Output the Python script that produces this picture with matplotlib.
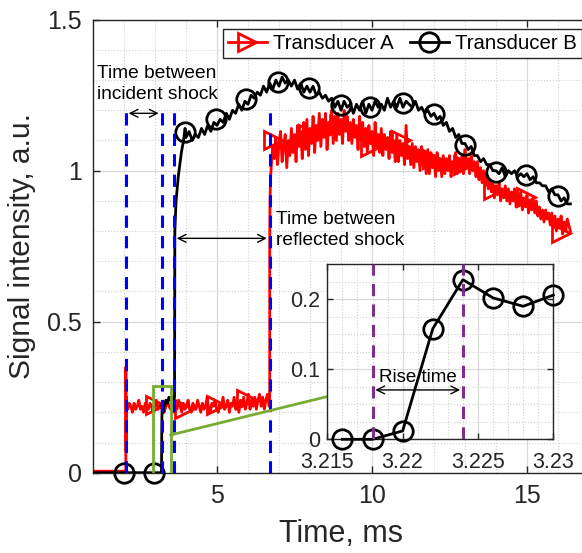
import numpy as np
import matplotlib.pyplot as plt
from matplotlib.lines import Line2D
from matplotlib.patches import Rectangle
from matplotlib.ticker import MultipleLocator

plt.rcParams['font.family'] = ['Liberation Sans', 'DejaVu Sans']

# ---- Transducer A (red) ----
red_base_t = [1.0, 2.04, 2.06, 2.06, 2.07, 2.08, 2.10]
red_base_v = [0.005, 0.005, 0.0, 0.35, 0.07, 0.25, 0.21]
# plateau after incident shock, 2.12 .. 6.68 ms
red_low_v = [0.21, 0.23, 0.22, 0.20, 0.23, 0.21, 0.22, 0.24, 0.21, 0.22, 0.20, 0.23, 0.22, 0.21, 0.23,
             0.22, 0.20, 0.22, 0.24, 0.21, 0.22, 0.23, 0.21, 0.20, 0.22, 0.24, 0.22, 0.21, 0.23, 0.20,
             0.22, 0.21, 0.24, 0.22, 0.20, 0.23, 0.21, 0.22, 0.24, 0.21, 0.20, 0.23, 0.22, 0.21, 0.24,
             0.22, 0.20, 0.23, 0.21, 0.22, 0.25, 0.21, 0.20, 0.23, 0.22, 0.24, 0.21, 0.20, 0.23, 0.22,
             0.25, 0.21, 0.22, 0.24, 0.20, 0.23, 0.22, 0.25, 0.21, 0.23, 0.20, 0.24, 0.22, 0.25, 0.21,
             0.23, 0.26, 0.21, 0.24, 0.22, 0.25, 0.21, 0.24, 0.26, 0.22, 0.25, 0.21, 0.24, 0.26, 0.22]
red_rise_t = [6.70, 6.70, 6.71, 6.73, 6.76, 6.80]
red_rise_v = [0.22, 0.75, 0.90, 0.98, 1.03, 1.08]
# after reflected shock, 6.85 .. 16.40 ms
red_high_v = [1.04, 1.11, 1.02, 1.09, 1.13, 1.03, 1.08, 1.12, 1.01, 1.10,
              1.05, 1.14, 1.06, 1.12, 1.03, 1.15, 1.08, 1.13, 1.04, 1.16,
              1.07, 1.17, 1.05, 1.14, 1.09, 1.18, 1.06, 1.15, 1.10, 1.19,
              1.08, 1.17, 1.11, 1.19, 1.07, 1.16, 1.12, 1.20, 1.09, 1.18,
              1.10, 1.19, 1.12, 1.17, 1.09, 1.20, 1.13, 1.18, 1.10, 1.16,
              1.09, 1.17, 1.11, 1.15, 1.07, 1.18, 1.10, 1.16, 1.08, 1.14,
              1.06, 1.15, 1.09, 1.13, 1.05, 1.16, 1.08, 1.12, 1.06, 1.14,
              1.05, 1.12, 1.07, 1.11, 1.04, 1.13, 1.06, 1.10, 1.03, 1.12,
              1.03, 1.10, 1.05, 1.09, 1.02, 1.15, 1.04, 1.08, 1.02, 1.09,
              1.01, 1.08, 1.03, 1.07, 1.00, 1.08, 1.02, 1.06, 0.99, 1.07,
              0.99, 1.06, 1.01, 1.05, 0.98, 1.06, 1.00, 1.04, 0.98, 1.05,
              0.99, 1.04, 1.00, 1.05, 0.98, 1.03, 1.01, 1.06, 0.99, 1.04,
              1.00, 1.05, 0.99, 1.07, 1.01, 1.04, 0.99, 1.06, 1.00, 1.03,
              0.98, 1.03, 0.97, 1.01, 0.96, 1.00, 0.95, 0.99, 0.94, 0.97,
              0.93, 0.96, 0.91, 0.95, 0.92, 0.96, 0.90, 0.94, 0.91, 0.95,
              0.90, 0.94, 0.89, 0.93, 0.90, 0.94, 0.88, 0.92, 0.89, 0.93,
              0.87, 0.91, 0.88, 0.92, 0.86, 0.90, 0.87, 0.91, 0.86, 0.90,
              0.85, 0.88, 0.84, 0.87, 0.83, 0.87, 0.84, 0.86, 0.82, 0.86,
              0.81, 0.85, 0.80, 0.84, 0.81, 0.85, 0.79, 0.83, 0.80, 0.84,
              0.82, 0.80]
red_mark_t = [3.0, 3.94, 4.98, 5.95, 6.8, 7.95, 8.95, 9.93, 10.95, 11.95, 12.95, 13.9, 14.98, 16.1]
red_mark_v = [0.225, 0.21, 0.225, 0.245, 1.10, 1.12, 1.15, 1.08, 1.10, 1.04, 1.02, 0.936, 0.914, 0.793]

# ---- Transducer B (black) ----
black_step_t = [1.0, 3.20, 3.21, 3.22, 3.23, 3.26, 3.30, 3.35, 3.40, 3.45, 3.50, 3.55, 3.60, 3.63,
                3.64, 3.68, 3.75, 3.85, 3.92, 3.97]
black_step_v = [0.0, 0.0, 0.01, 0.16, 0.23, 0.20, 0.22, 0.24, 0.23, 0.25, 0.24, 0.25, 0.24, 0.25,
                0.80, 0.90, 0.98, 1.06, 1.10, 1.14]
# 4.0 .. 16.4 ms
black_main_v = [1.11, 1.13, 1.10, 1.12, 1.11, 1.14, 1.12, 1.15, 1.13, 1.16,
                1.15, 1.17, 1.16, 1.19, 1.17, 1.20, 1.19, 1.22, 1.20, 1.23,
                1.22, 1.25, 1.24, 1.26, 1.25, 1.28, 1.26, 1.29, 1.27, 1.30,
                1.28, 1.31, 1.29, 1.30, 1.28, 1.30, 1.27, 1.29, 1.26, 1.28,
                1.26, 1.28, 1.25, 1.26, 1.24, 1.25, 1.23, 1.24, 1.21, 1.23,
                1.20, 1.23, 1.21, 1.22, 1.19, 1.22, 1.20, 1.23, 1.19, 1.22,
                1.20, 1.23, 1.21, 1.22, 1.20, 1.24, 1.21, 1.23, 1.21, 1.24,
                1.21, 1.23, 1.22, 1.21, 1.23, 1.20, 1.21, 1.19, 1.20, 1.18,
                1.19, 1.17, 1.18, 1.15, 1.16, 1.13, 1.14, 1.11, 1.12, 1.09,
                1.09, 1.07, 1.08, 1.05, 1.05, 1.03, 1.04, 1.02, 1.02, 1.00,
                1.00, 0.99, 1.01, 0.98, 1.00, 0.99, 1.00, 0.98, 0.99, 0.98,
                0.99, 0.97, 0.98, 0.96, 0.96, 0.95, 0.95, 0.93, 0.94, 0.92,
                0.92, 0.90, 0.91, 0.89, 0.89]
black_mark_t = [2.0, 2.97, 3.96, 4.98, 5.95, 6.97, 7.97, 8.99, 9.95, 11.0, 11.99, 12.99, 14.01, 14.98, 16.0]
black_mark_v = [0, 0, 1.127, 1.17, 1.236, 1.295, 1.273, 1.218, 1.21, 1.223, 1.187, 1.085, 0.997, 0.986, 0.916]

# shock timing markers
shock_lines = [2.06, 3.21, 3.61, 6.70]

# zoomed rise of transducer B
ins_t = [3.216, 3.218, 3.220, 3.222, 3.224, 3.226, 3.228, 3.230]
ins_v = [0.0, 0.0, 0.012, 0.158, 0.228, 0.202, 0.190, 0.206]
rise_lines = [3.218, 3.224]

red_t = np.concatenate([red_base_t, np.linspace(2.12, 6.68, len(red_low_v)), red_rise_t,
                        np.linspace(6.85, 16.40, len(red_high_v))])
red_v = np.concatenate([red_base_v, red_low_v, red_rise_v, red_high_v])
black_t = np.concatenate([black_step_t, np.linspace(4.0, 16.4, len(black_main_v))])
black_v = np.concatenate([black_step_v, black_main_v])

dark = (0.15, 0.15, 0.15)
green = (0.466, 0.674, 0.188)
purple = (0.494, 0.184, 0.556)

fig = plt.figure(figsize=(5.82, 5.53), dpi=100)
ax = fig.add_axes([0.1598, 0.1452, 0.8522, 0.8192])

ax.plot(red_t, red_v, color='red', lw=2.0, zorder=2)
ax.plot(red_mark_t, red_mark_v, ls='none', marker='>', ms=13, mfc='none', mec='red', mew=2.0, zorder=2)
ax.plot(black_t, black_v, color='black', lw=2.0, zorder=3)
ax.plot(black_mark_t, black_mark_v, ls='none', marker='o', ms=14, mfc='none', mec='black', mew=2.0,
        zorder=3, clip_on=False)

for xs in shock_lines:
    ax.plot([xs, xs], [0, 1.2], color='blue', lw=2.2, dashes=(4, 2.7), zorder=4)

ax.annotate('', xy=(2.06, 1.19), xytext=(3.21, 1.19),
            arrowprops=dict(arrowstyle='<->', color='black', lw=1.0, mutation_scale=14), zorder=5)
ax.text(1.13, 1.35, 'Time between\nincident shock', fontsize=13.8, va='top', ha='left',
        linespacing=1.3, zorder=5)
ax.annotate('', xy=(3.61, 0.776), xytext=(6.70, 0.776),
            arrowprops=dict(arrowstyle='<->', color='black', lw=1.0, mutation_scale=14), zorder=5)
ax.text(6.89, 0.865, 'Time between\nreflected shock', fontsize=13.8, va='top', ha='left',
        linespacing=1.3, zorder=5)

ax.add_patch(Rectangle((2.92, -0.003), 0.59, 0.29, fill=False, edgecolor=green, lw=2, zorder=5))
ax.plot([3.51, 8.55], [0.125, 0.252], color=green, lw=2, zorder=5)

ax.set_xlim(1, 17)
ax.set_ylim(0, 1.5)
ax.set_xticks([5, 10, 15])
ax.set_xticklabels(['5', '10', '15'])
ax.set_yticks([0, 0.5, 1, 1.5])
ax.set_yticklabels(['0', '0.5', '1', '1.5'])
ax.xaxis.set_minor_locator(MultipleLocator(1))
ax.yaxis.set_minor_locator(MultipleLocator(0.1))
ax.grid(which='major', color=(0.85, 0.85, 0.85), lw=0.9)
ax.grid(which='minor', color=(0.82, 0.82, 0.82), lw=0.8, ls=':')
ax.set_axisbelow(True)
ax.tick_params(which='major', direction='in', length=5, width=1, colors=dark, labelsize=18,
               top=True, right=True, pad=8)
ax.tick_params(which='minor', length=0)
for s in ax.spines.values():
    s.set_color(dark)
    s.set_linewidth(1)
ax.set_xlabel('Time, ms', fontsize=22, color=dark, labelpad=8)
ax.set_ylabel('Signal intensity, a.u.', fontsize=21.5, color=dark, labelpad=8)

handles = [Line2D([], [], color='red', lw=2.0, marker='>', ms=13, mfc='none', mew=2.0),
           Line2D([], [], color='black', lw=2.0, marker='o', ms=14, mfc='none', mew=2.0)]
leg = fig.legend(handles, ['Transducer A', 'Transducer B'], ncol=2, loc='upper left',
                 bbox_to_anchor=(0.383, 0.9476), borderaxespad=0, fontsize=14.7, frameon=True,
                 fancybox=False, edgecolor=dark, framealpha=1, borderpad=0.25, handlelength=1.9,
                 handletextpad=0.3, columnspacing=0.8)
leg.get_frame().set_linewidth(1)

# inset
axi = fig.add_axes([0.5624, 0.2056, 0.3883, 0.3165])
axi.set_zorder(10)
axi.plot(ins_t, ins_v, color='black', lw=2.0, marker='o', ms=14, mfc='none', mew=2.0, clip_on=False,
         zorder=3)
for xs in rise_lines:
    axi.plot([xs, xs], [0, 0.25], color=purple, lw=2.2, dashes=(4, 2.7), zorder=4)
axi.annotate('', xy=(3.218, 0.0705), xytext=(3.224, 0.0705),
             arrowprops=dict(arrowstyle='<->', color='black', lw=1.0, mutation_scale=14), zorder=5)
axi.text(3.221, 0.082, 'Rise time', fontsize=13.5, ha='center', va='baseline', zorder=5)
axi.set_xlim(3.215, 3.230)
axi.set_ylim(0, 0.25)
axi.set_xticks([3.215, 3.22, 3.225, 3.23])
axi.set_xticklabels(['3.215', '3.22', '3.225', '3.23'])
axi.set_yticks([0, 0.1, 0.2])
axi.set_yticklabels(['0', '0.1', '0.2'])
axi.xaxis.set_minor_locator(MultipleLocator(0.001))
axi.yaxis.set_minor_locator(MultipleLocator(0.025))
axi.grid(which='major', color=(0.85, 0.85, 0.85), lw=0.9)
axi.grid(which='minor', color=(0.82, 0.82, 0.82), lw=0.8, ls=':')
axi.set_axisbelow(True)
axi.tick_params(which='major', direction='in', length=4, width=1, colors=dark, labelsize=15.5,
                top=True, right=True)
axi.tick_params(axis='x', which='major', pad=9)
axi.tick_params(axis='y', which='major', pad=5)
axi.tick_params(which='minor', length=0)
for s in axi.spines.values():
    s.set_color(dark)
    s.set_linewidth(1)

fig.savefig('out.png', dpi=100)
